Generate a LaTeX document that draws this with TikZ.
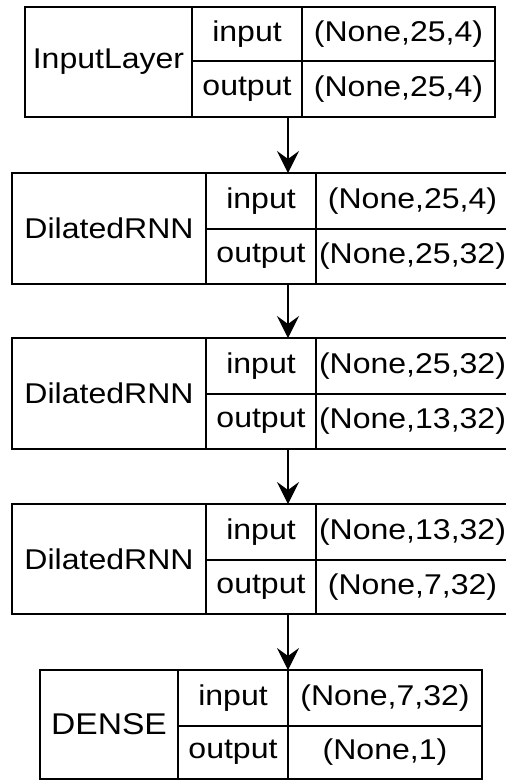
\documentclass[tikz,border=0pt]{standalone}
\usepackage{fontspec}
\newfontfamily\lbl{Liberation Sans}[FakeStretch=1.12]
\usetikzlibrary{arrows.meta}
\tikzset{
  cell/.style={draw=black, line width=1.6pt, rectangle, inner sep=0pt, outer sep=0pt,
    font=\lbl\fontsize{28.6}{34}\selectfont, text=black},
  arr/.style={draw=black, line width=1.4pt, -{Stealth[length=22pt,width=22pt,inset=8pt]}}
}
\begin{document}
\begin{tikzpicture}[x=1pt,y=-1pt]
\useasboundingbox (0,0) rectangle (506,780);
\clip (0,0) rectangle (506,780);
\fill[white] (0,0) rectangle (506,780);
% Layer 1
\node[cell, minimum width=167pt, minimum height=110pt] (n1) at (108.5,62) {InputLayer};
\node[cell, minimum width=110pt, minimum height=54pt] (i1) at (247,34) {input};
\node[cell, minimum width=110pt, minimum height=56pt] (o1) at (247,89) {output};
\node[cell, minimum width=193pt, minimum height=54pt] (vi1) at (398.5,34) {(None,25,4)};
\node[cell, minimum width=193pt, minimum height=56pt] (vo1) at (398.5,89) {(None,25,4)};
% Layer 2
\node[cell, minimum width=194pt, minimum height=111pt] (n2) at (109,228.5) {DilatedRNN};
\node[cell, minimum width=110pt, minimum height=56pt] (i2) at (261,201) {input};
\node[cell, minimum width=110pt, minimum height=55pt] (o2) at (261,256.5) {output};
\node[cell, minimum width=193pt, minimum height=56pt] (vi2) at (412.5,201) {(None,25,4)};
\node[cell, minimum width=193pt, minimum height=55pt] (vo2) at (412.5,256.5) {(None,25,32)};
% Layer 3
\node[cell, minimum width=194pt, minimum height=111pt] (n3) at (109,393.5) {DilatedRNN};
\node[cell, minimum width=110pt, minimum height=56pt] (i3) at (261,366) {input};
\node[cell, minimum width=110pt, minimum height=55pt] (o3) at (261,421.5) {output};
\node[cell, minimum width=193pt, minimum height=56pt] (vi3) at (412.5,366) {(None,25,32)};
\node[cell, minimum width=193pt, minimum height=55pt] (vo3) at (412.5,421.5) {(None,13,32)};
% Layer 4
\node[cell, minimum width=194pt, minimum height=110pt] (n4) at (109,559) {DilatedRNN};
\node[cell, minimum width=110pt, minimum height=56pt] (i4) at (261,532) {input};
\node[cell, minimum width=110pt, minimum height=54pt] (o4) at (261,587) {output};
\node[cell, minimum width=193pt, minimum height=56pt] (vi4) at (412.5,532) {(None,13,32)};
\node[cell, minimum width=193pt, minimum height=54pt] (vo4) at (412.5,587) {(None,7,32)};
% Layer 5
\node[cell, minimum width=138pt, minimum height=109pt, font=\lbl\fontsize{30}{34}\selectfont] (n5) at (109,724.5) {DENSE};
\node[cell, minimum width=110pt, minimum height=56pt] (i5) at (233,698) {input};
\node[cell, minimum width=110pt, minimum height=53pt] (o5) at (233,752.5) {output};
\node[cell, minimum width=194pt, minimum height=56pt] (vi5) at (385,698) {(None,7,32)};
\node[cell, minimum width=194pt, minimum height=53pt] (vo5) at (385,752.5) {(None,1)};
% Arrows
\draw[arr] (o1.south -| vi5.west) -- (i2.north -| vi5.west);
\draw[arr] (o2.south -| vi5.west) -- (i3.north -| vi5.west);
\draw[arr] (o3.south -| vi5.west) -- (i4.north -| vi5.west);
\draw[arr] (o4.south -| vi5.west) -- (i5.north -| vi5.west);
\end{tikzpicture}
\end{document}
